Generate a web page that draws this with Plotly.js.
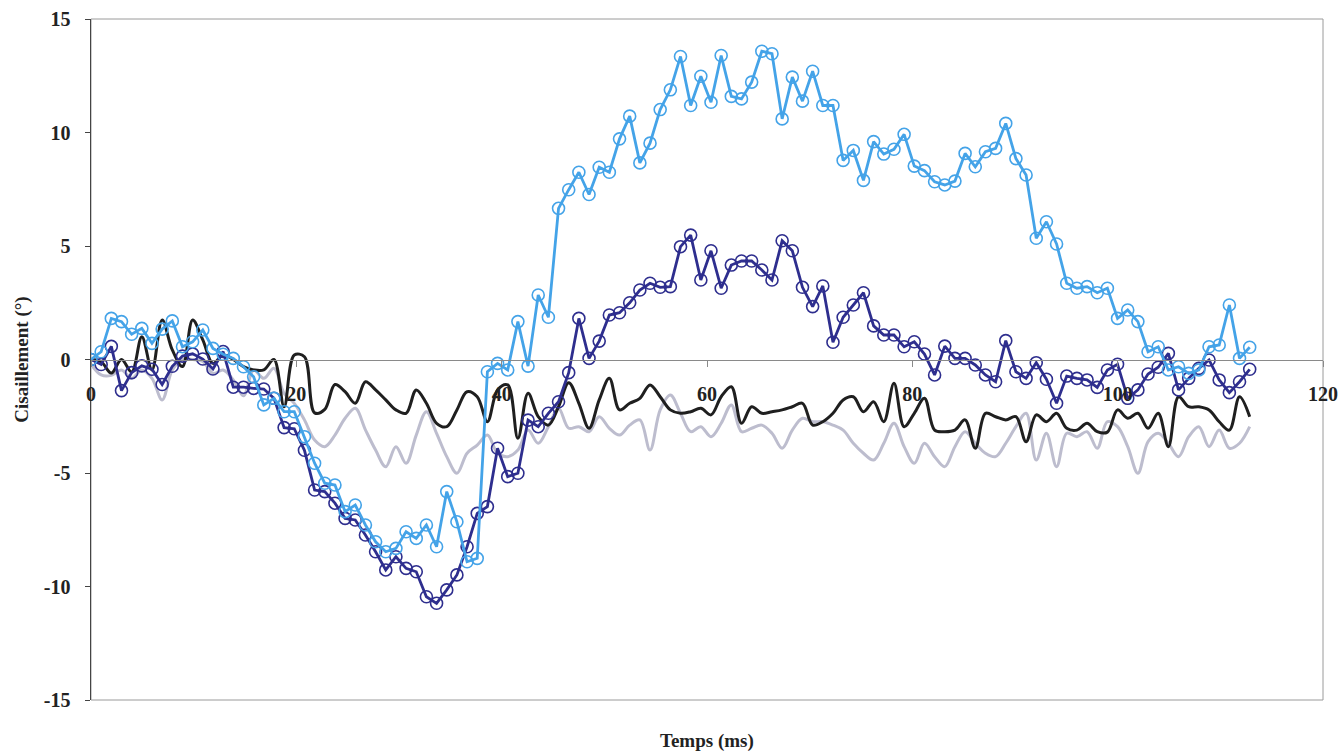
<!DOCTYPE html>
<html>
<head>
<meta charset="utf-8">
<script src="https://cdn.plot.ly/plotly-3.0.1.min.js"></script>
<style>html,body{margin:0;padding:0;background:#fff;}#chart{width:1343px;height:754px;}</style>
</head>
<body>
<div id="chart"></div>
<script>
// Sampling times (ms)
const timeMs = [0,0.99,1.98,2.97,3.96,4.95,5.94,6.93,7.92,8.91,9.9,10.89,11.88,12.87,13.86,14.85,15.84,16.83,17.82,18.81,19.8,20.79,21.78,22.77,23.76,24.75,25.74,26.73,27.72,28.71,29.7,30.69,31.68,32.67,33.66,34.65,35.64,36.63,37.62,38.61,39.6,40.59,41.58,42.57,43.56,44.55,45.54,46.53,47.52,48.51,49.5,50.49,51.48,52.47,53.46,54.45,55.44,56.43,57.42,58.41,59.4,60.39,61.38,62.37,63.36,64.35,65.34,66.33,67.32,68.31,69.3,70.29,71.28,72.27,73.26,74.25,75.24,76.23,77.22,78.21,79.2,80.19,81.18,82.17,83.16,84.15,85.14,86.13,87.12,88.11,89.1,90.09,91.08,92.07,93.06,94.05,95.04,96.03,97.02,98.01,99,99.99,100.98,101.97,102.96,103.95,104.94,105.93,106.92,107.91,108.9,109.89,110.88,111.87,112.86];

const lightBlue = [0,0.34,1.81,1.67,1.11,1.37,0.71,1.34,1.70,0.56,0.78,1.30,0.49,0.23,0.05,-0.32,-0.76,-2.0,-1.71,-2.3,-2.3,-3.4,-4.57,-5.45,-5.53,-6.7,-6.41,-7.29,-8.03,-8.47,-8.32,-7.59,-7.88,-7.29,-8.25,-5.82,-7.15,-8.91,-8.76,-0.54,-0.17,-0.46,1.67,-0.29,2.84,1.86,6.66,7.48,8.25,7.27,8.47,8.25,9.72,10.72,8.66,9.53,11.01,11.88,13.35,11.19,12.48,11.33,13.39,11.59,11.48,12.22,13.58,13.47,10.60,12.44,11.38,12.70,11.19,11.19,8.77,9.21,7.89,9.6,9.05,9.26,9.92,8.52,8.32,7.83,7.69,7.86,9.08,8.49,9.15,9.3,10.4,8.85,8.13,5.34,6.07,5.09,3.36,3.14,3.21,2.94,3.14,1.81,2.18,1.67,0.34,0.56,-0.46,-0.32,-0.61,-0.46,0.56,0.64,2.4,0.05,0.54];

const darkBlue = [0,-0.22,0.58,-1.37,-0.58,-0.28,-0.43,-1.1,-0.3,0.15,0.25,0.02,-0.42,0.35,-1.22,-1.22,-1.27,-1.3,-1.71,-3.0,-3.05,-4.0,-5.75,-5.82,-6.33,-7.0,-7.07,-7.73,-8.47,-9.27,-8.69,-9.2,-9.35,-10.45,-10.74,-10.15,-9.49,-8.25,-6.78,-6.48,-3.91,-5.16,-5.01,-2.67,-2.96,-2.37,-1.86,-0.58,1.81,0.05,0.81,1.96,2.06,2.5,3.06,3.36,3.18,3.21,4.97,5.48,3.5,4.79,3.14,4.16,4.34,4.34,3.94,3.5,5.23,4.79,3.18,2.33,3.24,0.76,1.86,2.4,2.94,1.48,1.08,1.08,0.56,0.78,0.24,-0.68,0.59,0.05,0.05,-0.24,-0.68,-0.98,0.83,-0.54,-0.83,-0.14,-0.87,-1.93,-0.73,-0.83,-0.9,-1.23,-0.46,-0.21,-1.71,-1.34,-0.64,-0.34,0.27,-1.34,-0.83,-0.39,-0.02,-0.9,-1.46,-0.98,-0.43];

const blackSeries = [0,-0.1,-0.6,0.0,-0.55,1.0,-0.46,1.74,0.42,-0.31,1.74,0.86,-0.17,0.2,0.0,-0.31,-0.46,-0.46,0.0,-2.08,0.2,0.12,-2.35,-2.2,-1.1,-1.42,-1.93,-0.98,-1.34,-1.78,-2.22,-2.37,-1.34,-1.93,-2.81,-2.96,-2.22,-1.42,-1.64,-2.74,-1.34,-1.12,-3.47,-1.49,-2.52,-2.89,-2.08,-1.02,-1.93,-3.03,-1.78,-0.83,-2.22,-1.93,-1.71,-1.12,-1.64,-2.22,-2.37,-2.3,-2.15,-2.44,-1.64,-1.2,-2.81,-2.08,-2.37,-2.3,-2.22,-2.08,-1.93,-2.89,-2.74,-2.37,-1.78,-1.64,-2.3,-1.86,-2.74,-1.05,-2.96,-2.37,-1.71,-3.11,-3.18,-3.11,-2.66,-3.91,-2.37,-2.52,-2.66,-2.52,-3.62,-2.44,-2.74,-2.37,-3.03,-3.11,-2.81,-3.18,-3.2,-2.22,-2.59,-2.37,-3.03,-2.37,-3.84,-1.64,-2.08,-2.08,-2.22,-2.74,-3.11,-1.64,-2.52];

const graySeries = [-0.2,-0.68,-0.7,-0.46,-0.83,-0.46,-0.83,-1.78,-0.46,0.0,0.0,-0.09,-0.61,-0.46,-0.9,-1.6,-0.46,-0.83,-0.39,-1.49,-1.93,-2.66,-3.55,-3.84,-3.33,-2.59,-2.15,-3.1,-3.99,-4.72,-3.84,-4.57,-3.33,-2.3,-3.25,-4.28,-5.01,-4.13,-3.77,-3.33,-4.13,-4.28,-3.99,-3.11,-3.69,-2.96,-2.15,-3.03,-2.96,-3.18,-2.52,-3.03,-3.33,-2.89,-2.66,-3.99,-2.22,-1.56,-2.37,-3.18,-2.96,-3.4,-2.81,-2.0,-3.18,-3.03,-2.89,-3.25,-3.91,-3.11,-2.59,-2.74,-2.74,-2.89,-3.11,-3.69,-4.13,-4.43,-3.69,-2.81,-3.84,-4.57,-3.69,-4.28,-4.72,-3.84,-3.18,-3.69,-4.13,-4.28,-3.69,-2.96,-2.37,-4.43,-3.25,-4.72,-3.25,-3.4,-3.18,-3.91,-2.74,-2.96,-3.84,-5.01,-3.62,-3.25,-3.69,-4.28,-3.4,-2.96,-3.84,-3.11,-3.91,-3.69,-2.96];

const xTickVals = [0,20,40,60,80,100,120];
const xTickText = ['0','20','40','60','80','100','120'];
const yTickVals = [-15,-10,-5,0,5,10,15];
const yTickText = ['-15','-10','-5','0','5','10','15'];

const FONT = 'Liberation Serif, Times New Roman, serif';

const traces = [
  {x: timeMs, y: graySeries, type: 'scatter', mode: 'lines',
   line: {color: '#bdbdce', width: 3, shape: 'spline', smoothing: 1}, hoverinfo: 'skip'},
  {x: timeMs, y: blackSeries, type: 'scatter', mode: 'lines',
   line: {color: '#1f1f1f', width: 3, shape: 'spline', smoothing: 1}, hoverinfo: 'skip'},
  {x: timeMs, y: darkBlue, type: 'scatter', mode: 'lines+markers',
   line: {color: '#2e2e8e', width: 2.8},
   marker: {symbol: 'circle-open', size: 12, color: '#2e2e8e', line: {width: 1.6}}},
  {x: timeMs, y: lightBlue, type: 'scatter', mode: 'lines+markers',
   line: {color: '#44a3e8', width: 2.8},
   marker: {symbol: 'circle-open', size: 12, color: '#44a3e8', line: {width: 1.6}}}
];

const layout = {
  width: 1343, height: 754,
  margin: {l: 91, r: 20, t: 19, b: 54},
  paper_bgcolor: '#fff', plot_bgcolor: '#fff',
  showlegend: false,
  font: {family: FONT, color: '#222'},
  xaxis: {
    range: [0, 120], tickmode: 'array', tickvals: xTickVals, ticktext: xTickText,
    anchor: 'free', position: 0.5,
    showline: true, linecolor: '#8a8a8a', linewidth: 1,
    ticks: 'outside', ticklen: 6, tickcolor: '#8a8a8a', tickwidth: 1,
    showgrid: false, zeroline: false,
    ticklabelstandoff: 10,
    tickfont: {family: FONT, size: 20, color: '#222', weight: 'bold'}
  },
  yaxis: {
    range: [-15, 15], tickmode: 'array', tickvals: yTickVals, ticktext: yTickText,
    showline: true, linecolor: '#444', linewidth: 1.5,
    ticks: 'outside', ticklen: 5, tickcolor: '#444', tickwidth: 1,
    showgrid: false, zeroline: false,
    ticklabelstandoff: 10,
    tickfont: {family: FONT, size: 20, color: '#222', weight: 'bold'},
    title: {text: 'Cisaillement (°)', standoff: 10,
            font: {family: FONT, size: 19, color: '#222', weight: 'bold'}}
  },
  shapes: [
    {type: 'rect', xref: 'paper', yref: 'paper', x0: 0, x1: 1, y0: 0, y1: 1,
     line: {color: '#9a9a9a', width: 1}, layer: 'below'}
  ],
  annotations: [
    {text: 'Temps (ms)', xref: 'paper', yref: 'paper', x: 0.5, y: -0.06,
     xanchor: 'center', yanchor: 'middle', showarrow: false,
     font: {family: FONT, size: 19, color: '#222', weight: 'bold'}}
  ]
};

Plotly.newPlot('chart', traces, layout, {displayModeBar: false, staticPlot: true});
</script>
</body>
</html>
